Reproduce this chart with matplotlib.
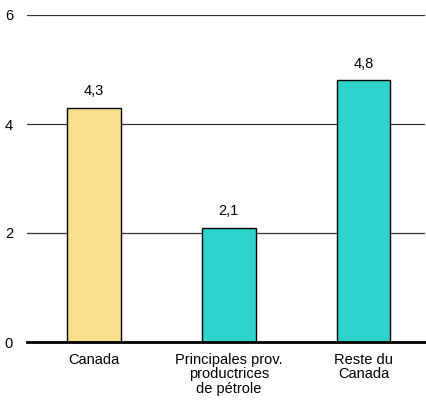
import matplotlib.pyplot as plt

plt.rcParams['font.family'] = ['Liberation Sans', 'DejaVu Sans']

categories = ["Canada", "Principales prov.\nproductrices\nde pétrole", "Reste du\nCanada"]
values = [4.3, 2.1, 4.8]
labels = ["4,3", "2,1", "4,8"]
colors = ["#F8E08E", "#2DD4CB", "#2DD4CB"]

fig = plt.figure(figsize=(4.27, 4.01), dpi=100)
ax = fig.add_axes([27 / 427, 59 / 401, 398 / 427, 327 / 401])

x = range(len(values))
ax.bar(x, values, width=0.4, color=colors, edgecolor="black", linewidth=1, zorder=3)
for xi, v, lab in zip(x, values, labels):
    ax.text(xi, v + 0.17, lab, ha="center", va="bottom", fontsize=10.5)

ax.set_ylim(0, 6)
ax.set_xlim(-0.497, 2.456)
ax.set_yticks([0, 2, 4, 6])
ax.set_yticklabels(["0", "2", "4", "6"], fontsize=10.5)
ax.set_xticks(list(x))
ax.set_xticklabels(categories, fontsize=10.5, linespacing=1.02)
ax.tick_params(length=0)
ax.tick_params(axis="y", pad=10)
ax.tick_params(axis="x", pad=8)
ax.yaxis.grid(True, color="#333333", linewidth=0.9, zorder=0)
for s in ["top", "right", "left"]:
    ax.spines[s].set_visible(False)
ax.spines["bottom"].set_linewidth(2)
ax.spines["bottom"].set_zorder(4)

fig.savefig("out.png", dpi=100)
